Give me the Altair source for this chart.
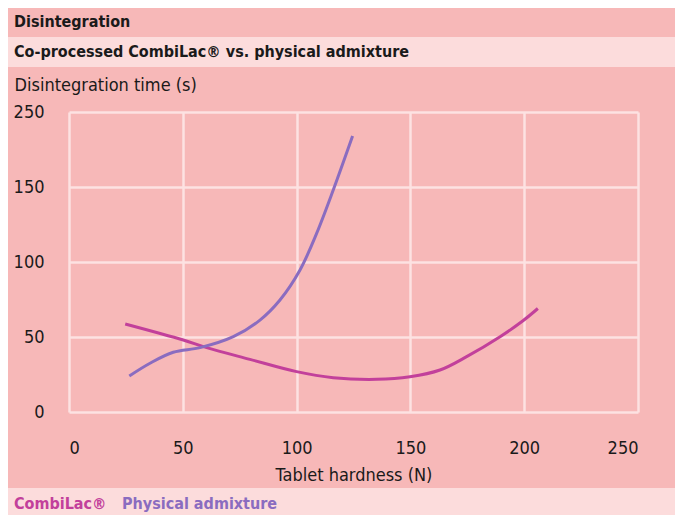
import altair as alt
import pandas as pd

series_names = ["CombiLac®", "Physical admixture"]
series_colors = ["#c2409b", "#8a6cc0"]

combilac_x = [24.7, 50.2, 60.5, 79.5, 100.0, 116.1, 135.2, 149.8, 163.0, 174.7, 189.4, 199.6, 206.0]
combilac_y = [58.7, 48.0, 42.9, 35.1, 26.9, 22.9, 21.8, 23.5, 28.0, 36.9, 50.2, 61.0, 69.0]
physical_x = [26.5, 35.6, 45.8, 57.6, 72.2, 83.9, 92.7, 101.5, 108.8, 116.1, 124.6]
physical_y = [24.0, 32.5, 39.8, 42.9, 50.2, 61.3, 74.7, 94.7, 119.1, 148.0, 184.0]

x_ticks = [0, 50, 100, 150, 200, 250]
y_ticks = [0, 50, 100, 150, 200]
y_tick_labels = ["0", "50", "100", "150", "250"]

title_text = "Disintegration"
subtitle_text = "Co-processed CombiLac® vs. physical admixture"
y_title = "Disintegration time (s)"
x_title = "Tablet hardness (N)"

DARK = "#f7b8b8"
LIGHT = "#fcdcdc"
GRID = "#fde2e2"
TEXT = "#1a1a1a"
FONT = "DejaVu Sans Condensed, Liberation Sans Narrow, sans-serif"

rows = []
for xv, yv in zip(combilac_x, combilac_y):
    rows.append({"hardness": xv, "time": yv, "series": series_names[0]})
for xv, yv in zip(physical_x, physical_y):
    rows.append({"hardness": xv, "time": yv, "series": series_names[1]})
df = pd.DataFrame(rows)

label_expr = "datum.label"
for v, lab in zip(y_ticks, y_tick_labels):
    label_expr = f"datum.value == {v} ? '{lab}' : (" + label_expr + ")"

one = alt.Data(values=[{"k": 1}])

top_band = alt.Chart(one).mark_rect(color=LIGHT).encode(
    x=alt.value(-61), x2=alt.value(606), y=alt.value(-75), y2=alt.value(-45)
)
bottom_band = alt.Chart(one).mark_rect(color=LIGHT).encode(
    x=alt.value(-61), x2=alt.value(606), y=alt.value(376), y2=alt.value(403)
)

def text_layer(txt, x, y, color, weight, size):
    return alt.Chart(alt.Data(values=[{"t": txt}])).mark_text(
        align="left", baseline="alphabetic", font=FONT, fontSize=size, fontWeight=weight, color=color
    ).encode(text="t:N", x=alt.value(x), y=alt.value(y))

title_layer = text_layer(title_text, -55, -85, TEXT, "bold", 16)
subtitle_layer = text_layer(subtitle_text, -55, -55, TEXT, "bold", 16)
legend1 = text_layer(series_names[0], -55, 397, series_colors[0], "bold", 16)
legend2 = text_layer(series_names[1], 53, 397, series_colors[1], "bold", 16)

lines = alt.Chart(df).mark_line(strokeWidth=3, interpolate="catmull-rom").encode(
    x=alt.X("hardness:Q", scale=alt.Scale(domain=[0, 250], nice=False),
            axis=alt.Axis(values=x_ticks, title=x_title, grid=True, domain=False, ticks=False,
                          labelPadding=27, titlePadding=9, labelFontSize=18, titleFontSize=18,
                          labelFont=FONT, titleFont=FONT, labelColor=TEXT, titleColor=TEXT,
                          titleFontWeight="normal", gridColor=GRID, gridWidth=2.5, gridOpacity=1)),
    y=alt.Y("time:Q", scale=alt.Scale(domain=[0, 200], nice=False),
            axis=alt.Axis(values=y_ticks, labelExpr=label_expr, title=y_title, grid=True, domain=False,
                          ticks=False, labelPadding=25, labelFontSize=18, titleFontSize=18,
                          labelFont=FONT, titleFont=FONT, labelColor=TEXT, titleColor=TEXT,
                          titleFontWeight="normal", titleAngle=0, titleAlign="left",
                          titleBaseline="alphabetic", titleX=-55, titleY=-22,
                          gridColor=GRID, gridWidth=2.5, gridOpacity=1)),
    color=alt.Color("series:N", scale=alt.Scale(domain=series_names, range=series_colors), legend=None),
)

chart = alt.layer(top_band, bottom_band, lines, title_layer, subtitle_layer, legend1, legend2).properties(
    width=569, height=300,
    background=DARK,
    padding={"left": 61, "top": 104, "right": 37, "bottom": 103},
    autosize=alt.AutoSizeParams(type="none"),
).configure_view(stroke=None)

chart.save("out.html", embed_options={"renderer": "svg", "actions": False})
